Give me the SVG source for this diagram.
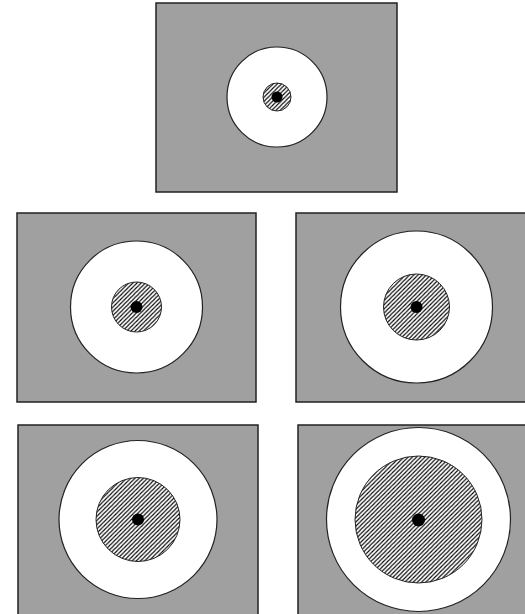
<svg xmlns="http://www.w3.org/2000/svg" width="525" height="614" viewBox="0 0 525 614">
  <style>
    .panel { fill: #a0a0a0; stroke: #222; stroke-width: 1.5; }
    .outer { fill: #fff; stroke: #222; stroke-width: 1.2; }
    .hatch { fill: url(#hatch); stroke: #222; stroke-width: 1; }
    .dot { fill: #000; }
  </style>
  <defs>
    <pattern id="hatch" patternUnits="userSpaceOnUse" width="4.2" height="4.2">
      <rect width="4.2" height="4.2" fill="#fff"/>
      <path d="M-1,1 L1,-1 M0,4.2 L4.2,0 M3.2,5.2 L5.2,3.2" stroke="#000" stroke-width="1.1"/>
    </pattern>
  </defs>
  <rect width="525" height="614" fill="#fff"/>
  <g id="panel1">
    <rect class="panel" x="156" y="3" width="241" height="189"/>
    <circle class="outer" cx="277" cy="97" r="50"/>
    <circle class="hatch" cx="277" cy="97" r="14"/>
    <circle class="dot" cx="277" cy="97" r="5.5"/>
  </g>
  <g id="panel2">
    <rect class="panel" x="17" y="213" width="239" height="189"/>
    <circle class="outer" cx="136.5" cy="307" r="66"/>
    <circle class="hatch" cx="136.5" cy="307" r="25"/>
    <circle class="dot" cx="136.5" cy="307" r="6"/>
  </g>
  <g id="panel3">
    <rect class="panel" x="296" y="213" width="240" height="189"/>
    <circle class="outer" cx="416.5" cy="307" r="76"/>
    <circle class="hatch" cx="416.5" cy="307" r="33"/>
    <circle class="dot" cx="416.5" cy="307" r="6"/>
  </g>
  <g id="panel4">
    <rect class="panel" x="18" y="425" width="240" height="195"/>
    <circle class="outer" cx="138" cy="519.5" r="79"/>
    <circle class="hatch" cx="138" cy="519.5" r="42"/>
    <circle class="dot" cx="138" cy="519.5" r="6"/>
  </g>
  <g id="panel5">
    <rect class="panel" x="298" y="425" width="240" height="195"/>
    <circle class="outer" cx="418.5" cy="519.5" r="92"/>
    <circle class="hatch" cx="418.5" cy="519.5" r="63.5"/>
    <circle class="dot" cx="418.5" cy="520" r="6.5"/>
  </g>
  <g id="connectors"/>
</svg>
